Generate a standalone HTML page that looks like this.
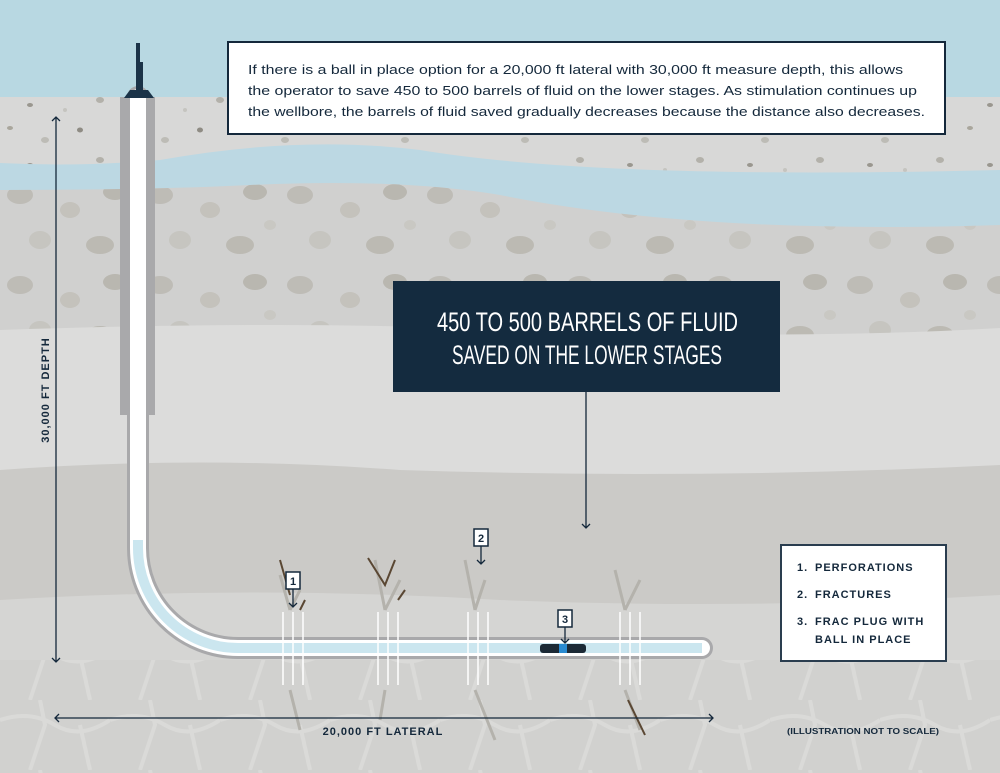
<!DOCTYPE html>
<html><head><meta charset="utf-8"><style>
body{margin:0;width:1000px;height:773px;overflow:hidden;font-family:"Liberation Sans",sans-serif}
svg{display:block}
</style></head><body>
<svg width="1000" height="773" viewBox="0 0 1000 773" xmlns="http://www.w3.org/2000/svg">
<defs>
<pattern id="p1" width="120" height="60" patternUnits="userSpaceOnUse">
<ellipse cx="10" cy="8" rx="3" ry="2" fill="#a9a69c"/><ellipse cx="45" cy="20" rx="4" ry="3" fill="#bdbcb6"/>
<ellipse cx="80" cy="10" rx="3" ry="2.5" fill="#8f8c84"/><ellipse cx="100" cy="40" rx="4" ry="3" fill="#b3b1aa"/>
<ellipse cx="30" cy="45" rx="3" ry="2" fill="#9a978f"/><ellipse cx="65" cy="50" rx="2" ry="2" fill="#c5c4bf"/>
</pattern>
<pattern id="p2" width="140" height="90" patternUnits="userSpaceOnUse">
<ellipse cx="20" cy="15" rx="13" ry="9" fill="#bebcb6"/><ellipse cx="70" cy="30" rx="10" ry="8" fill="#c4c2bc"/>
<ellipse cx="115" cy="12" rx="12" ry="8" fill="#b9b7b0"/><ellipse cx="40" cy="60" rx="11" ry="9" fill="#c6c5c0"/>
<ellipse cx="100" cy="65" rx="14" ry="9" fill="#bcbab3"/><ellipse cx="130" cy="45" rx="6" ry="5" fill="#c9c8c3"/>
</pattern>
<pattern id="p3" width="110" height="70" patternUnits="userSpaceOnUse">
<rect width="110" height="70" fill="#cfcfcd"/>
<path d="M0 20 Q30 10 55 25 T110 20 M40 0 L45 25 L30 70 M80 25 L90 70" stroke="#dededc" stroke-width="4" fill="none"/>
</pattern>
</defs>
<rect width="1000" height="773" fill="#b8d8e2"/>
<rect y="97" width="1000" height="120" fill="#d8d8d7"/>
<rect y="97" width="1000" height="120" fill="url(#p1)"/>
<path d="M0 163 Q80 167 160 160 Q300 135 420 150 Q600 180 1000 170 V240 H0Z" fill="#bcd8e3"/>
<path d="M0 190 Q150 190 250 185 Q400 178 500 195 Q700 235 1000 225 V335 H0Z" fill="#d0d0cf"/>
<path d="M0 190 Q150 190 250 185 Q400 178 500 195 Q700 235 1000 225 V335 H0Z" fill="url(#p2)"/>
<path d="M0 330 Q300 320 500 330 Q800 340 1000 328 V480 H0Z" fill="#dcdcdb"/>
<path d="M0 470 Q200 455 400 470 Q700 480 1000 465 V773 H0Z" fill="#cbcac7"/>
<path d="M0 600 Q250 585 500 600 Q750 610 1000 595 V773 H0Z" fill="#d5d5d3"/>
<rect y="660" width="1000" height="113" fill="url(#p3)" opacity="0.6"/>
<g stroke="#b4b2ac" stroke-width="3" fill="none">
<path d="M290 610 L280 575 M290 610 L300 590 M290 690 L300 730"/>
<path d="M385 610 L375 560 M385 610 L400 580 M385 690 L380 720"/>
<path d="M475 610 L465 560 M475 610 L485 580 M475 690 L495 740"/>
<path d="M625 610 L615 570 M625 610 L640 580 M625 690 L640 730"/>
</g>
<g stroke="#5a4733" stroke-width="2" fill="none">
<path d="M280 560 L290 595 M305 600 L300 610"/><path d="M368 558 L385 585 L395 560"/>
<path d="M405 590 L398 600"/><path d="M628 700 L645 735"/>
</g>
<rect x="120" y="97" width="35" height="318" fill="#a9a9ab"/>
<path d="M138 97 V548 A100 100 0 0 0 238 648 H702" stroke="#a9a9ab" stroke-width="22" fill="none" stroke-linecap="round"/>
<path d="M138 97 V548 A100 100 0 0 0 238 648 H702" stroke="#ffffff" stroke-width="16" fill="none" stroke-linecap="round"/>
<path d="M138 540 V548 A100 100 0 0 0 238 648 H702" stroke="#cbe6ef" stroke-width="10" fill="none"/>
<rect x="136" y="43" width="4" height="50" fill="#1b3348"/><rect x="140" y="62" width="3" height="30" fill="#1b3348"/>
<path d="M124 98 L130 90 H148 L154 98Z" fill="#1b3348"/>
<g stroke="#ffffff" stroke-width="1.5">
<path d="M283 612V685M293 612V685M303 612V685M378 612V685M388 612V685M398 612V685M468 612V685M478 612V685M488 612V685M620 612V685M630 612V685M640 612V685"/>
</g>
<rect x="540" y="644" width="46" height="9" rx="3" fill="#1c2a36"/><rect x="559" y="644" width="8" height="9" fill="#2a8bd1"/>
<g font-family="Liberation Sans" font-weight="bold" font-size="11" text-anchor="middle" fill="#14283b">
<rect x="286" y="572" width="14" height="17" fill="#fff" stroke="#14283b" stroke-width="1.5"/><text x="293" y="585">1</text>
<rect x="474" y="529" width="14" height="17" fill="#fff" stroke="#14283b" stroke-width="1.5"/><text x="481" y="542">2</text>
<rect x="558" y="610" width="14" height="17" fill="#fff" stroke="#14283b" stroke-width="1.5"/><text x="565" y="623">3</text>
</g>
<g stroke="#14283b" stroke-width="1.3" fill="none">
<path d="M293 589V607M289 603L293 607L297 603"/><path d="M481 546V564M477 560L481 564L485 560"/>
<path d="M565 627V643M561 639L565 643L569 639"/>
<path d="M586 392V528M582 524L586 528L590 524"/>
<path d="M56 117V662M52 121L56 117L60 121M52 658L56 662L60 658"/>
<path d="M55 718H713M59 714L55 718L59 722M709 714L713 718L709 722"/>
</g>
<text transform="translate(49 390) rotate(-90)" text-anchor="middle" font-weight="bold" font-size="11" letter-spacing="1" fill="#14283b">30,000 FT DEPTH</text>
<text x="383" y="735" text-anchor="middle" font-weight="bold" font-size="11" letter-spacing="1" fill="#14283b">20,000 FT LATERAL</text>
<text x="787" y="734" font-weight="bold" font-size="8" textLength="152" lengthAdjust="spacingAndGlyphs" fill="#14283b">(ILLUSTRATION NOT TO SCALE)</text>
<rect x="228" y="42" width="717" height="92" fill="#fff" stroke="#14283b" stroke-width="2"/>
<g font-size="13.3" fill="#14283b">
<text x="248" y="74" textLength="655" lengthAdjust="spacingAndGlyphs">If there is a ball in place option for a 20,000 ft lateral with 30,000 ft measure depth, this allows</text>
<text x="248" y="95" textLength="669" lengthAdjust="spacingAndGlyphs">the operator to save 450 to 500 barrels of fluid on the lower stages. As stimulation continues up</text>
<text x="248" y="116" textLength="677" lengthAdjust="spacingAndGlyphs">the wellbore, the barrels of fluid saved gradually decreases because the distance also decreases.</text>
</g>
<rect x="393" y="281" width="387" height="111" fill="#142b3f"/>
<g font-size="27" fill="#fff">
<text x="437" y="331" textLength="301" lengthAdjust="spacingAndGlyphs">450 TO 500 BARRELS OF FLUID</text>
<text x="452" y="364" textLength="270" lengthAdjust="spacingAndGlyphs">SAVED ON THE LOWER STAGES</text>
</g>
<rect x="781" y="545" width="165" height="116" fill="#fff" stroke="#2a3d4f" stroke-width="2"/>
<g font-weight="bold" font-size="11" letter-spacing="1" fill="#14283b">
<text x="797" y="571">1.</text><text x="815" y="571">PERFORATIONS</text>
<text x="797" y="598">2.</text><text x="815" y="598">FRACTURES</text>
<text x="797" y="625">3.</text><text x="815" y="625">FRAC PLUG WITH</text>
<text x="815" y="643">BALL IN PLACE</text>
</g>
</svg>
</body></html>
